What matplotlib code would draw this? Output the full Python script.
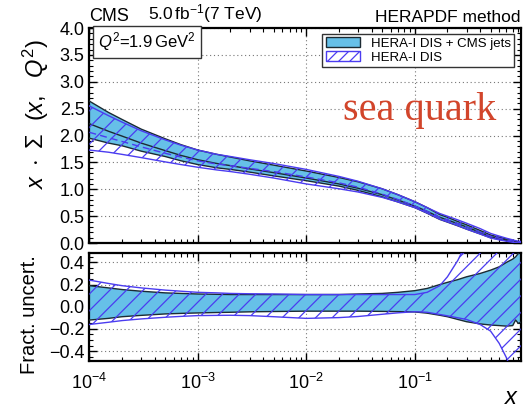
import matplotlib
matplotlib.use("Agg")
import matplotlib.pyplot as plt
from matplotlib.patches import Patch
from matplotlib.ticker import MultipleLocator, LogLocator, NullFormatter
import numpy as np

plt.rcParams["font.family"] = ["Liberation Sans", "DejaVu Sans"]
plt.rcParams["mathtext.fontset"] = "custom"
plt.rcParams["mathtext.rm"] = "Liberation Sans"
plt.rcParams["mathtext.it"] = "Liberation Sans:italic"
plt.rcParams["hatch.linewidth"] = 0.9

# x points
x = [1e-4, 1.5e-4, 2e-4, 3e-4, 5e-4, 7e-4, 1e-3, 1.5e-3, 2e-3, 3e-3,
     5e-3, 1e-2, 2e-2, 3e-2, 5e-2, 7e-2, 0.1, 0.13, 0.17, 0.2,
     0.25, 0.3, 0.4, 0.5, 0.6, 0.7, 0.8, 0.85, 0.9, 0.95]

# top panel: x * Sigma(x, Q^2)
cms_central = [2.22, 2.08, 1.99, 1.86, 1.72, 1.63, 1.55, 1.48, 1.44, 1.38,
               1.31, 1.21, 1.10, 1.02, 0.90, 0.80, 0.69, 0.59, 0.48, 0.43,
               0.36, 0.30, 0.20, 0.12, 0.085, 0.055, 0.035, 0.025, 0.015, 0.008]
cms_hi = [2.64, 2.43, 2.30, 2.12, 1.94, 1.83, 1.73, 1.65, 1.60, 1.53,
          1.45, 1.34, 1.22, 1.14, 1.01, 0.90, 0.77, 0.66, 0.53, 0.48,
          0.40, 0.34, 0.235, 0.15, 0.11, 0.075, 0.05, 0.035, 0.022, 0.012]
cms_lo = [1.95, 1.86, 1.81, 1.71, 1.61, 1.53, 1.46, 1.40, 1.37, 1.32,
          1.25, 1.16, 1.06, 0.98, 0.86, 0.765, 0.66, 0.555, 0.44, 0.39,
          0.32, 0.26, 0.17, 0.10, 0.07, 0.045, 0.029, 0.022, 0.013, 0.007]
dis_central = [2.06, 1.96, 1.89, 1.79, 1.67, 1.60, 1.53, 1.47, 1.44, 1.39,
               1.33, 1.23, 1.12, 1.04, 0.91, 0.81, 0.69, 0.59, 0.48, 0.43,
               0.36, 0.30, 0.205, 0.125, 0.09, 0.06, 0.038, 0.027, 0.017, 0.009]
dis_hi = [2.55, 2.37, 2.25, 2.09, 1.92, 1.82, 1.73, 1.65, 1.61, 1.55,
          1.48, 1.37, 1.24, 1.15, 1.01, 0.90, 0.77, 0.66, 0.55, 0.50,
          0.43, 0.37, 0.27, 0.18, 0.13, 0.09, 0.06, 0.045, 0.035, 0.03]
dis_lo = [1.73, 1.69, 1.65, 1.59, 1.51, 1.46, 1.41, 1.36, 1.33, 1.28,
          1.21, 1.10, 1.01, 0.95, 0.85, 0.765, 0.66, 0.56, 0.445, 0.395,
          0.325, 0.26, 0.17, 0.095, 0.06, 0.035, 0.015, 0.008, 0.004, 0.0]

# bottom panel: fractional uncertainties
cms_up = [0.19, 0.17, 0.155, 0.14, 0.125, 0.12, 0.115, 0.112, 0.11, 0.11,
          0.11, 0.11, 0.11, 0.115, 0.12, 0.13, 0.145, 0.165, 0.20, 0.22,
          0.245, 0.27, 0.30, 0.33, 0.36, 0.40, 0.43, 0.45, 0.48, 0.51]
cms_dn = [-0.12, -0.105, -0.09, -0.078, -0.065, -0.06, -0.056, -0.052, -0.05, -0.046,
          -0.043, -0.04, -0.04, -0.04, -0.042, -0.044, -0.047, -0.058, -0.077, -0.09,
          -0.115, -0.135, -0.155, -0.165, -0.17, -0.175, -0.17, -0.12, -0.15, -0.14]
dis_up = [0.24, 0.21, 0.19, 0.17, 0.15, 0.14, 0.13, 0.125, 0.12, 0.117,
          0.115, 0.11, 0.11, 0.11, 0.11, 0.11, 0.11, 0.13, 0.19, 0.27,
          0.42, 0.58, 0.85, 1.1, 1.4, 1.7, 2.0, 2.2, 2.4, 2.6]
dis_dn = [-0.16, -0.14, -0.125, -0.11, -0.095, -0.087, -0.08, -0.078, -0.077, -0.08,
          -0.09, -0.105, -0.098, -0.088, -0.068, -0.055, -0.045, -0.05, -0.07, -0.082,
          -0.10, -0.115, -0.16, -0.22, -0.33, -0.46, -0.6, -0.75, -0.9, -1.0]

fill_col = "#66c0e8"
edge_dark = "#1c2b33"
hatch_col = "#4b3cf0"

fig = plt.figure(figsize=(5.32, 4.12), dpi=100)
ax1 = fig.add_axes([0.168, 0.410, 0.811, 0.522])
ax2 = fig.add_axes([0.168, 0.125, 0.811, 0.261])

def style(ax):
    ax.set_xscale("log")
    ax.set_xlim(1e-4, 0.95)
    ax.tick_params(which="both", direction="in", top=True, right=True, labelsize=13)
    ax.tick_params(which="major", length=6, width=1)
    ax.tick_params(which="minor", length=3, width=0.8)
    ax.xaxis.set_major_locator(LogLocator(base=10, numticks=10))
    ax.xaxis.set_minor_locator(LogLocator(base=10, subs=np.arange(2, 10), numticks=10))
    ax.xaxis.set_minor_formatter(NullFormatter())
    ax.grid(True, which="major", linestyle=(0, (1, 2.5)), color="#777777", linewidth=0.8)
    for s in ax.spines.values():
        s.set_linewidth(1.6)

# top panel
style(ax1)
ax1.fill_between(x, cms_lo, cms_hi, facecolor=fill_col, edgecolor="none", zorder=2)
ax1.plot(x, cms_hi, color=edge_dark, lw=1.0, zorder=3)
ax1.plot(x, cms_lo, color=edge_dark, lw=1.0, zorder=3)
ax1.plot(x, cms_central, color=edge_dark, lw=1.0, zorder=3)
ax1.fill_between(x, dis_lo, dis_hi, facecolor="none", edgecolor=hatch_col, hatch="//", lw=0, zorder=4)
ax1.plot(x, dis_hi, color=hatch_col, lw=1.0, zorder=4)
ax1.plot(x, dis_lo, color=hatch_col, lw=1.0, zorder=4)
ax1.plot(x, dis_central, color=hatch_col, lw=1.0, ls=(0, (5, 3)), zorder=4)
ax1.set_ylim(0, 4.0)
ax1.yaxis.set_major_locator(MultipleLocator(0.5))
ax1.yaxis.set_minor_locator(MultipleLocator(0.1))
ax1.tick_params(axis="x", labelbottom=False)
ax1.set_ylabel(r"$x\ \cdot\ \Sigma\ \ (x,\ \ Q^2)$", fontsize=17, ha="center", va="center")
ax1.yaxis.set_label_coords(-0.123, 0.6)

ax1.text(0.0, 1.012, "CMS", transform=ax1.transAxes, fontsize=13, ha="left", va="bottom")
ax1.text(0.135, 1.012, r"5.0$\,$fb$^{-1}$(7 TeV)", transform=ax1.transAxes,
         fontsize=12.5, ha="left", va="bottom")
ax1.text(1.0, 1.012, "HERAPDF method", transform=ax1.transAxes, fontsize=12.5,
         ha="right", va="bottom")
ax1.text(0.02, 0.935, r"$Q^2$=1.9$\,$GeV$^2$", transform=ax1.transAxes, fontsize=12,
         ha="left", va="center",
         bbox=dict(boxstyle="square,pad=0.3", facecolor="white", edgecolor="#333333", lw=1.0))
ax1.text(0.942, 0.615, "sea quark", transform=ax1.transAxes, fontsize=29, color="#d2452b",
         family="Liberation Serif", ha="right", va="center")

handles = [Patch(facecolor=fill_col, edgecolor=edge_dark, lw=1.0),
           Patch(facecolor="none", edgecolor=hatch_col, hatch="///", lw=1.0)]
leg = ax1.legend(handles, ["HERA-I DIS + CMS jets", "HERA-I DIS"], loc="upper right",
                 bbox_to_anchor=(0.99, 0.985), fontsize=9.5, frameon=True, fancybox=False,
                 framealpha=1, edgecolor="#333333", handlelength=2.6, handleheight=0.8,
                 borderpad=0.25, labelspacing=0.1, handletextpad=0.8, borderaxespad=0.2)
leg.get_frame().set_linewidth(1.0)

# bottom panel
style(ax2)
ax2.fill_between(x, cms_dn, cms_up, facecolor=fill_col, edgecolor="none", zorder=2)
ax2.plot(x, cms_up, color=edge_dark, lw=1.0, zorder=3)
ax2.plot(x, cms_dn, color=edge_dark, lw=1.0, zorder=3)
ax2.fill_between(x, dis_dn, dis_up, facecolor="none", edgecolor=hatch_col, hatch="//", lw=0, zorder=4)
ax2.plot(x, dis_up, color=hatch_col, lw=1.0, zorder=4)
ax2.plot(x, dis_dn, color=hatch_col, lw=1.0, zorder=4)
ax2.set_ylim(-0.485, 0.485)
ax2.yaxis.set_major_locator(MultipleLocator(0.2))
ax2.yaxis.set_minor_locator(MultipleLocator(0.05))
ax2.set_ylabel("Fract. uncert.", fontsize=14.5, ha="center", va="center")
ax2.yaxis.set_label_coords(-0.139, 0.43)
ax2.tick_params(axis="x", pad=9)
ax2.set_xlabel(r"$x$", fontsize=17)
ax2.xaxis.set_label_coords(0.98, -0.25)

fig.savefig("out.png", dpi=100)
